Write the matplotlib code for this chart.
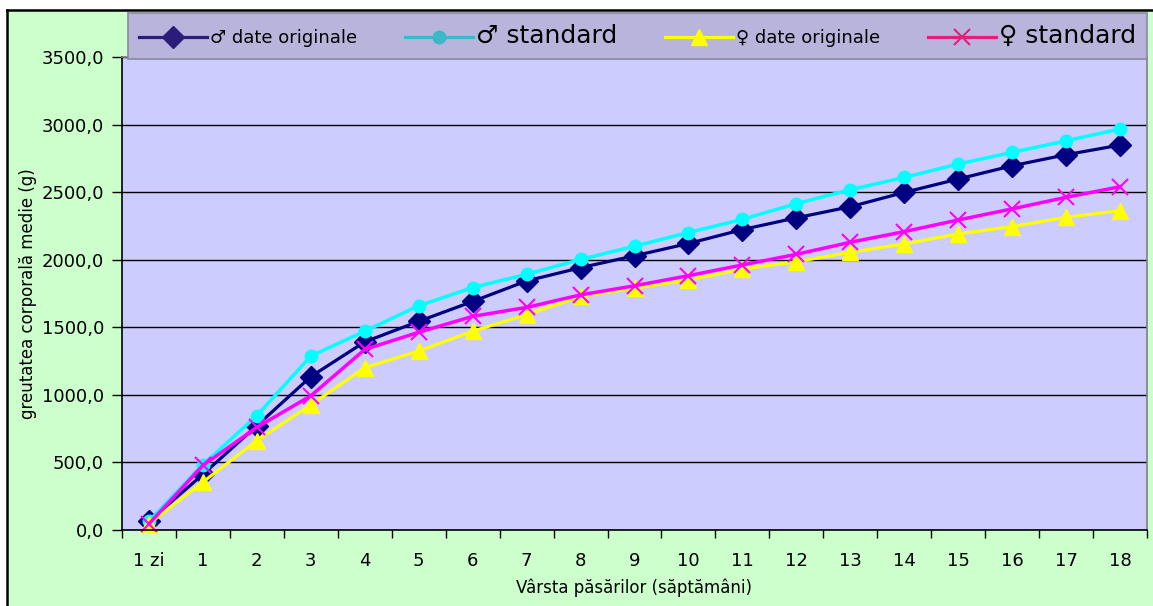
import matplotlib
matplotlib.use("Agg")
import matplotlib.pyplot as plt
from matplotlib.lines import Line2D
from matplotlib.patches import Rectangle

# category labels (age of birds)
categories = ["1 zi"] + [str(i) for i in range(1, 19)]

# mean body weight (g)
male_orig = [65, 412, 772, 1135, 1392, 1544, 1691, 1843, 1941, 2029, 2120,
             2223, 2310, 2392, 2498, 2597, 2695, 2777, 2848]
male_std = [65, 483, 846, 1287, 1471, 1659, 1794, 1892, 2002, 2100, 2201,
            2299, 2415, 2518, 2609, 2708, 2794, 2880, 2967]
female_orig = [45, 355, 662, 926, 1201, 1324, 1471, 1593, 1728, 1789, 1851,
               1931, 1985, 2055, 2117, 2191, 2245, 2314, 2363]
female_std = [45, 478, 760, 993, 1336, 1463, 1581, 1647, 1740, 1807, 1882,
              1961, 2040, 2129, 2208, 2294, 2376, 2462, 2540]

labels = ["\u2642 date originale", "\u2642 standard",
          "\u2640 date originale", "\u2640 standard"]

W, H = 1153, 606
fig = plt.figure(figsize=(W / 100, H / 100), dpi=100, facecolor="white")

# outer chart area: green fill, black border only at top and left
x0, y0 = 7 / W, 1 - 10 / H
fig.patches.append(Rectangle((x0, 0), 1 - x0, y0, transform=fig.transFigure,
                             facecolor="#CCFFCC", edgecolor="none", zorder=-10))
fig.lines.append(Line2D([x0, x0], [0, y0], transform=fig.transFigure,
                        color="black", lw=1.8))
fig.lines.append(Line2D([x0, 1], [y0, y0], transform=fig.transFigure,
                        color="black", lw=1.8))

ax = fig.add_axes([122 / W, 1 - 530 / H, (1147 - 122) / W, (530 - 57) / H])
ax.set_facecolor("#CCCCFF")

x = list(range(len(categories)))
ax.plot(x, male_orig, color="#000080", lw=2.3, marker="D", ms=11,
        label=labels[0], clip_on=False)
ax.plot(x, male_std, color="#00FFFF", lw=2.5, marker="o", ms=9,
        label=labels[1], clip_on=False)
ax.plot(x, female_orig, color="#FFFF00", lw=2.3, marker="^", ms=12,
        label=labels[2], clip_on=False)
ax.plot(x, female_std, color="#FF00FF", lw=2.5, marker="x", ms=11, mew=1.5,
        label=labels[3], clip_on=False)

ax.set_xlim(-0.5, len(categories) - 0.5)
ax.set_ylim(0, 3500)

yt = list(range(0, 3501, 500))
ax.set_yticks(yt)
ax.set_yticklabels([f"{v:.1f}".replace(".", ",") for v in yt], fontsize=13)
ax.yaxis.grid(True, color="black", lw=1)
ax.set_axisbelow(True)

ax.set_xticks([i - 0.5 for i in range(len(categories) + 1)])
ax.set_xticklabels([])
ax.set_xticks(x, minor=True)
ax.set_xticklabels(categories, minor=True, fontsize=13)
ax.tick_params(axis="x", which="major", length=6, width=1, direction="out")
ax.tick_params(axis="x", which="minor", length=0, pad=16)
ax.tick_params(axis="y", length=7, width=1, direction="out", pad=6)

for s in ["left", "bottom"]:
    ax.spines[s].set_color("black")
    ax.spines[s].set_linewidth(1.2)
for s in ["right", "top"]:
    ax.spines[s].set_color("#808080")
    ax.spines[s].set_linewidth(1.2)

ax.set_ylabel("greutatea corporală medie (g)", fontsize=12, labelpad=3)
ax.set_xlabel("Vârsta păsărilor (săptămâni)", fontsize=12, labelpad=6)

# legend, handles slightly darker as in the source
handles = [
    Line2D([], [], color="#2B1B7B", lw=2.3, marker="D", ms=11),
    Line2D([], [], color="#3CB8C8", lw=2.3, marker="o", ms=9),
    Line2D([], [], color="#FFFF00", lw=2.3, marker="^", ms=12),
    Line2D([], [], color="#E0207A", lw=2.3, marker="x", ms=11, mew=1.5),
]
leg = fig.legend(handles, labels, ncol=4, loc="lower left", mode="expand",
                 bbox_to_anchor=(128 / W, 1 - 59 / H, (1147 - 128) / W, 46 / H),
                 fontsize=13, handlelength=3.8, handletextpad=0.15,
                 borderaxespad=0, borderpad=0.6, fancybox=False,
                 facecolor="#B8B4DC", edgecolor="#8A8A9A", framealpha=1)
texts = leg.get_texts()
texts[1].set_fontsize(18)
texts[3].set_fontsize(18)
leg.get_frame().set_linewidth(1.2)

fig.savefig("out.png", dpi=100, facecolor=fig.get_facecolor())
